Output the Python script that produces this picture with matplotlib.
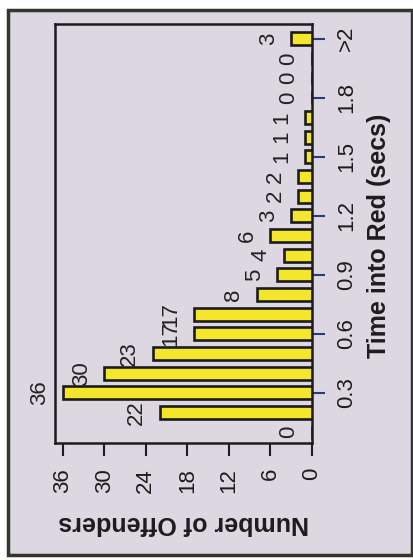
import matplotlib
matplotlib.use("Agg")
import matplotlib.pyplot as plt
from matplotlib.patches import Rectangle
import numpy as np

plt.rcParams['font.family'] = ['Liberation Sans', 'DejaVu Sans']

# Data (bins of 0.1 s, last bin is ">2")
categories = ['0.1', '0.2', '0.3', '0.4', '0.5', '0.6', '0.7', '0.8', '0.9', '1.0',
              '1.1', '1.2', '1.3', '1.4', '1.5', '1.6', '1.7', '1.8', '1.9', '2.0', '>2']
offenders = [0, 22, 36, 30, 23, 17, 17, 8, 5, 4, 6, 3, 2, 2, 1, 1, 1, 0, 0, 0, 3]
tick_categories = ['0.3', '0.6', '0.9', '1.2', '1.5', '1.8', '>2']
value_ticks = [0, 6, 12, 18, 24, 30, 36]

x_label = 'Number of Offenders'
y_label = 'Time into Red (secs)'

W, H = 414, 560
bg = '#dcd7e1'
bar_color = '#f4e62a'
edge = '#1c1c1c'

fig = plt.figure(figsize=(W / 100, H / 100), dpi=100)
fig.patch.set_facecolor('white')

# outer panel frame
fig.patches.append(Rectangle((8 / W, 5 / H), 404 / W, 545 / H, transform=fig.transFigure,
                             facecolor=bg, edgecolor='#35352d', linewidth=2.5, zorder=-10))

ax = fig.add_axes([55 / W, 117 / H, 257 / W, 419 / H])
ax.set_zorder(1)
ax.set_facecolor(bg)

pos = np.arange(len(categories))
ax.barh(pos, offenders, height=0.65, color=bar_color, edgecolor=edge, linewidth=1.9, zorder=3)

for p, v in zip(pos, offenders):
    ax.annotate(str(v), xy=(v, p), xytext=(-9, 0), textcoords='offset points',
                ha='right', va='center', rotation=90, fontsize=16, color='#222222',
                annotation_clip=False, clip_on=False)

ax.set_xlim(0, 37.1)
ax.invert_xaxis()
ax.set_ylim(-0.55, 20.75)

ax.set_xticks(value_ticks)
ax.set_xticklabels([str(t) for t in value_ticks])
tick_pos = [categories.index(c) for c in tick_categories]
ax.set_yticks(tick_pos)
ax.set_yticklabels(tick_categories, va='center')
ax.yaxis.tick_right()

ax.tick_params(axis='x', direction='out', length=9, width=1.5, pad=9, labelsize=16,
               labelrotation=90, colors='#1c1c1c')
ax.tick_params(axis='y', direction='out', length=9.5, width=1.5, pad=8, labelsize=16,
               labelrotation=90, color='#2a3a7a', labelcolor='#1c1c1c')
ax.tick_params(axis='y', which='both', left=False)

for s in ax.spines.values():
    s.set_linewidth(1.8)
    s.set_color('#1c1c1c')

ax.set_xlabel(x_label, fontsize=18, fontweight='bold', rotation=180, va='center', ha='center',
              color='#1c1c1c')
ax.xaxis.set_label_coords(0.5, -0.191)
ax.yaxis.set_label_position('right')
ax.set_ylabel(y_label, fontsize=18, fontweight='bold', rotation=90, va='center', ha='center',
              color='#1c1c1c')
ax.yaxis.set_label_coords(1.261, 0.494)

fig.savefig('out.png', dpi=100)
